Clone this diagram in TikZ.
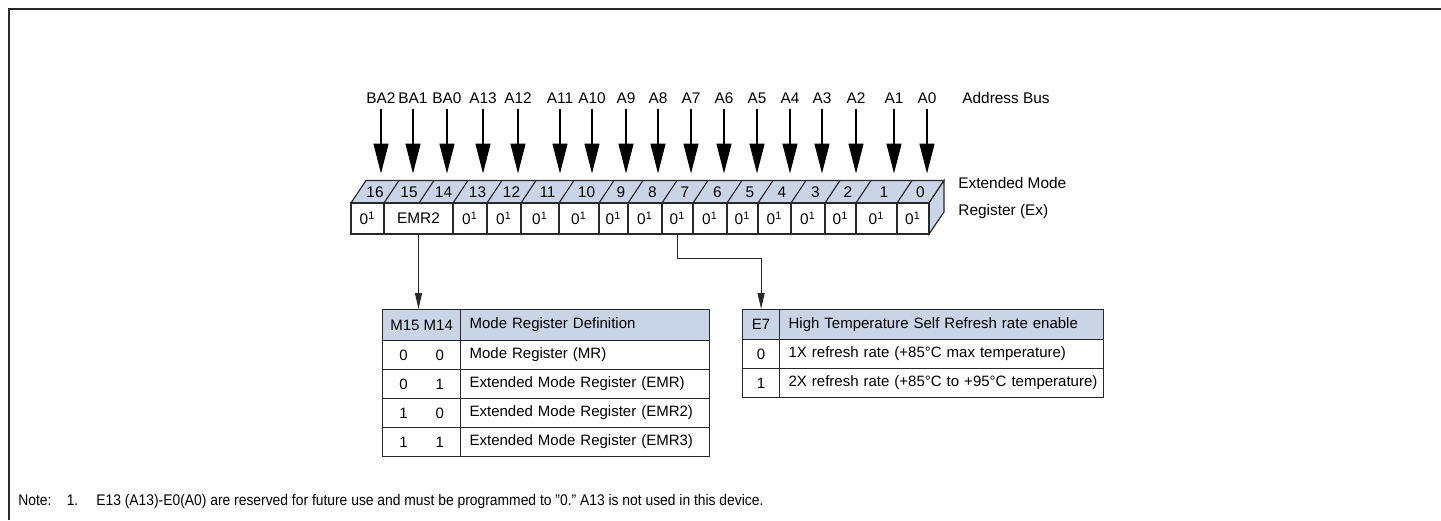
\documentclass[tikz,border=0pt]{standalone}
\usepackage{fontspec}
\setmainfont{Liberation Sans}
\usetikzlibrary{arrows.meta}
\definecolor{regblue}{RGB}{201,213,231}
\definecolor{linegray}{RGB}{40,40,40}
\newcommand{\zeroone}{0\textsuperscript{1}}
\tikzset{
  txt/.style={font=\fontsize{7.7}{9}\selectfont, inner sep=1pt},
  bit/.style={txt, draw=linegray, line width=0.6pt, minimum height=15.5pt, inner sep=0pt},
  tcell/.style={txt, font=\fontsize{7.5}{9}\selectfont, draw=linegray, line width=0.6pt, inner sep=0pt, anchor=north west},
  hdr/.style={tcell, fill=regblue},
  lcell/.style={align=left, inner xsep=4.5pt},
  busarrow/.style={-{Triangle[length=15pt,width=7.5pt]}, line width=0.6pt, shorten >=3.5pt, shorten <=1.5pt},
  selarrow/.style={-{Triangle[length=8pt,width=3.5pt]}, line width=0.6pt, draw=linegray},
}
\begin{document}
\begin{tikzpicture}[x=0.5pt,y=-0.5pt]
\useasboundingbox (0,0) rectangle (1441,520);
% frame
\draw[linegray, line width=1pt] (9,520) -- (9,9) -- (1441,9);

% address bus
\foreach \x/\t in {381/BA2,413/BA1,447/BA0,483/A13,518/A12,560/A11,592/A10,626/A9,658/A8,691/A7,724/A6,757/A5,790/A4,822/A3,856/A2,894/A1,927/A0}{
  \node[txt] (bus-\t) at (\x,98) {\t};
  \coordinate (pin-\t) at (\x,180.5);
  \draw[busarrow] (bus-\t.south) -- (pin-\t);
}
\node[txt, anchor=west] (busname) at (960,98) {Address Bus};

% register, top face and side
\draw[linegray, line width=0.6pt, fill=regblue] (351,203) -- (366,180.5) -- (944,180.5) -- (929,203) -- cycle;
\draw[linegray, line width=0.6pt, fill=regblue] (929,203) -- (944,180.5) -- (944,212) -- (929,234) -- cycle;
\foreach \b in {384,419,453,487,521,559,599,628,662,693,727,758,791,825,856,897}
  \draw[linegray, line width=0.6pt] (\b,203) -- (\b+15,180.5);
\foreach \n/\l/\r in {16/351/384,15/384/419,14/419/453,13/453/487,12/487/521,11/521/559,10/559/599,9/599/628,8/628/662,7/662/693,6/693/727,5/727/758,4/758/791,3/791/825,2/825/856,1/856/897,0/897/929}
  \node[txt] (num\n) at ({(\l+\r)/2+7.5},192) {\n};

% register, front cells
\foreach \n/\l/\r in {16/351/384,13/453/487,12/487/521,11/521/559,10/559/599,9/599/628,8/628/662,7/662/693,6/693/727,5/727/758,4/758/791,3/791/825,2/825/856,1/856/897,0/897/929}
  \node[bit, minimum width={(\r-\l)*0.5pt}] (c\n) at ({(\l+\r)/2},218.5) {\zeroone};
\node[bit, minimum width=34.5pt] (emr2) at (418.5,218.5) {EMR2};

\node[txt, anchor=west] (regname1) at (956,183) {Extended Mode};
\node[txt, anchor=west] (regname2) at (956,212) {Register (Ex)};

% mode register table
\node[hdr, minimum width=39pt, minimum height=15.5pt] (mh) at (382,309) {M15 M14};
\node[hdr, lcell, text width=115.5pt, minimum height=15.5pt] (mhd) at (460,309) {Mode Register Definition};
\node[tcell, minimum width=39pt, minimum height=14.5pt] (m1) at (382,340) {\makebox[22.3pt]{0\hfill0}};
\node[tcell, lcell, text width=115.5pt, minimum height=14.5pt] (m1d) at (460,340) {Mode Register (MR)};
\node[tcell, minimum width=39pt, minimum height=14.5pt] (m2) at (382,369) {\makebox[22.3pt]{0\hfill1}};
\node[tcell, lcell, text width=115.5pt, minimum height=14.5pt] (m2d) at (460,369) {Extended Mode Register (EMR)};
\node[tcell, minimum width=39pt, minimum height=14.5pt] (m3) at (382,398) {\makebox[22.3pt]{1\hfill0}};
\node[tcell, lcell, text width=115.5pt, minimum height=14.5pt] (m3d) at (460,398) {Extended Mode Register (EMR2)};
\node[tcell, minimum width=39pt, minimum height=14.5pt] (m4) at (382,427) {\makebox[22.3pt]{1\hfill1}};
\node[tcell, lcell, text width=115.5pt, minimum height=14.5pt] (m4d) at (460,427) {Extended Mode Register (EMR3)};

% self refresh table
\node[hdr, minimum width=18.5pt, minimum height=15pt] (eh) at (742,309) {E7};
\node[hdr, lcell, text width=153pt, minimum height=15pt] (ehd) at (779,309) {High Temperature Self Refresh rate enable};
\node[tcell, minimum width=18.5pt, minimum height=14.5pt] (e1) at (742,339) {0};
\node[tcell, lcell, text width=153pt, minimum height=14.5pt] (e1d) at (779,339) {1X refresh rate (+85°C max temperature)};
\node[tcell, minimum width=18.5pt, minimum height=14.5pt] (e2) at (742,368) {1};
\node[tcell, lcell, text width=153pt, minimum height=14.5pt] (e2d) at (779,368) {\mbox{2X refresh rate (+85°C to +95°C temperature)}};

\draw[selarrow] (emr2.south) -- (emr2.south |- mh.north);
\draw[selarrow] (c7.south) -- ++(0,24) -| (eh.north);

\node[txt, anchor=west] (note) at (16,502) {\scalebox{0.9}[1]{Note:\hspace{1.1em}1.\hspace{1.3em}E13 (A13)-E0(A0) are reserved for future use and must be programmed to "0." A13 is not used in this device.}};
\end{tikzpicture}
\end{document}
